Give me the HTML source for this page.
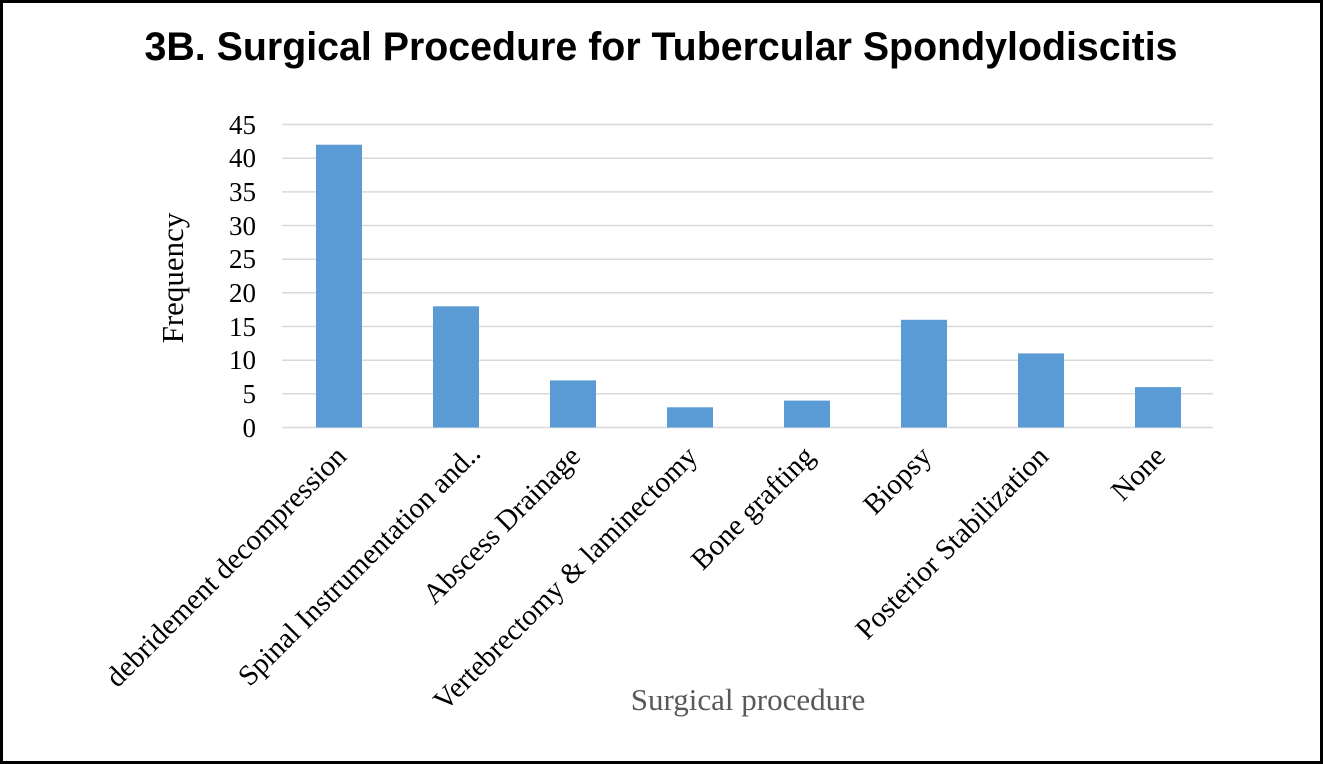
<!DOCTYPE html>
<html><head><style>
html,body{margin:0;padding:0;background:#fff}
svg{display:block}
</style></head><body>
<svg width="1323" height="764" xmlns="http://www.w3.org/2000/svg">
<rect x="1.5" y="1.5" width="1320" height="761" fill="#fff" stroke="#000" stroke-width="3"/>
<text x="661" y="60" text-anchor="middle" font-family="Liberation Sans, sans-serif" font-weight="bold" font-size="40" textLength="1033" lengthAdjust="spacingAndGlyphs">3B. Surgical Procedure for Tubercular Spondylodiscitis</text>
<g stroke="#d9d9d9" stroke-width="1.5">
<line x1="282" x2="1213" y1="124.5" y2="124.5"/>
<line x1="282" x2="1213" y1="158.2" y2="158.2"/>
<line x1="282" x2="1213" y1="191.9" y2="191.9"/>
<line x1="282" x2="1213" y1="225.5" y2="225.5"/>
<line x1="282" x2="1213" y1="259.2" y2="259.2"/>
<line x1="282" x2="1213" y1="292.8" y2="292.8"/>
<line x1="282" x2="1213" y1="326.5" y2="326.5"/>
<line x1="282" x2="1213" y1="360.2" y2="360.2"/>
<line x1="282" x2="1213" y1="393.8" y2="393.8"/>
<line x1="282" x2="1213" y1="427.5" y2="427.5"/>
</g>
<g font-family="Liberation Serif, serif" font-size="27" text-anchor="end" fill="#000">
<text x="256" y="134">45</text><text x="256" y="167">40</text><text x="256" y="201">35</text>
<text x="256" y="235">30</text><text x="256" y="268">25</text><text x="256" y="302">20</text>
<text x="256" y="336">15</text><text x="256" y="369">10</text><text x="256" y="403">5</text>
<text x="256" y="437">0</text>
</g>
<g fill="#5b9bd5">
<rect x="316" y="144.7" width="46" height="282.8"/>
<rect x="433" y="306.3" width="46" height="121.2"/>
<rect x="550" y="380.4" width="46" height="47.1"/>
<rect x="667" y="407.3" width="46" height="20.2"/>
<rect x="784" y="400.6" width="46" height="26.9"/>
<rect x="901" y="319.8" width="46" height="107.7"/>
<rect x="1018" y="353.4" width="46" height="74.1"/>
<rect x="1135" y="387.1" width="46" height="40.4"/>
</g>
<g font-family="Liberation Serif, serif" font-size="29" text-anchor="end" fill="#000">
<text transform="translate(348,458) rotate(-45)">debridement decompression</text>
<text transform="translate(482,455) rotate(-45)">Spinal Instrumentation and..</text>
<text transform="translate(582,458) rotate(-45)">Abscess Drainage</text>
<text transform="translate(699,458) rotate(-45)">Vertebrectomy &amp; laminectomy</text>
<text transform="translate(816,458) rotate(-45)">Bone grafting</text>
<text transform="translate(933,458) rotate(-45)">Biopsy</text>
<text transform="translate(1050,458) rotate(-45)">Posterior Stabilization</text>
<text transform="translate(1167,458) rotate(-45)">None</text>
</g>
<text transform="translate(183,278) rotate(-90)" text-anchor="middle" font-family="Liberation Serif, serif" font-size="31" fill="#000">Frequency</text>
<text x="748" y="710" text-anchor="middle" font-family="Liberation Serif, serif" font-size="31" fill="#595959">Surgical procedure</text>
</svg>
</body></html>
